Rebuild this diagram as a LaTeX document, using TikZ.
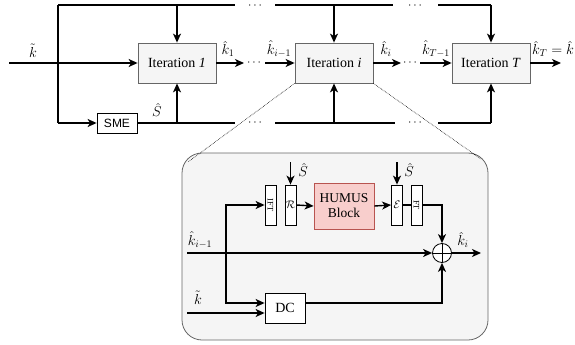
\documentclass[tikz,border=0pt]{standalone}
\usepackage{fontspec}
\setmainfont{Liberation Serif}
\newfontfamily\smesans{Liberation Sans}
\usetikzlibrary{arrows.meta,calc}
\definecolor{itfill}{HTML}{F5F5F5}
\definecolor{itdraw}{HTML}{666666}
\definecolor{hufill}{HTML}{F8CECC}
\definecolor{hudraw}{HTML}{B85450}
\begin{document}
\begin{tikzpicture}[x=1pt,y=-1pt,
  fnt/.style={font=\fontsize{14}{16}\selectfont},
  iterbox/.style={draw=itdraw,fill=itfill,line width=0.8pt,minimum width=78pt,minimum height=40pt,inner sep=0pt,fnt},
  plainbox/.style={draw=black,fill=white,line width=0.8pt,inner sep=0pt},
  thinbox/.style={plainbox,minimum width=11pt,minimum height=40pt},
  humusbox/.style={draw=hudraw,fill=hufill,line width=0.8pt,minimum width=60pt,minimum height=46pt,inner sep=0pt,align=center,font=\fontsize{13.5}{15}\selectfont},
  wire/.style={line width=1.4pt},
  arr/.style={wire,-{Stealth[length=9pt,width=8pt,inset=2.5pt]}},
  lab/.style={inner sep=0pt,fnt},
  dotsl/.style={inner sep=0pt,font=\fontsize{12}{14}\selectfont},
  zoomline/.style={densely dotted,line width=0.6pt}
]
\useasboundingbox (0,0) rectangle (575,345);

% zoom panel
\draw[draw=itdraw,fill=itfill,line width=0.8pt,rounded corners=20pt] (182,153) rectangle (488,340);

% iteration boxes
\node[iterbox] (it1) at (177,63) {Iteration \textit{1}};
\node[iterbox] (iti) at (334,63) {Iteration \textit{i}};
\node[iterbox] (itT) at (491,63) {Iteration \textit{T}};
\node[plainbox,minimum width=40pt,minimum height=20pt,font=\smesans\fontsize{12}{14}\selectfont] (sme) at (117,123) {SME};

% dotted zoom lines
\coordinate (zl) at (188,162);
\coordinate (zr) at (481,159);
\draw[zoomline] (iti.south west) -- (zl);
\draw[zoomline] (iti.south east) -- (zr);

% coordinates
\coordinate (in) at (9,63);
\coordinate (tl) at (58,5);
\coordinate (bl) at (58,123);
\coordinate (t1) at (235,5);
\coordinate (t2) at (275,5);
\coordinate (t3) at (393,5);
\coordinate (t4) at (438,5);
\coordinate (t5) at (491,5);
\coordinate (b1) at (235,123);
\coordinate (b2) at (275,123);
\coordinate (b3) at (395,123);
\coordinate (b4) at (438,123);
\coordinate (b5) at (491,123);
\node[dotsl] (dt1) at (255,6) {$\cdots$};
\node[dotsl] (dt2) at (415,6) {$\cdots$};
\node[dotsl] (db1) at (255,123) {$\cdots$};
\node[dotsl] (db2) at (415,123) {$\cdots$};

% input
\draw[arr] (in) -- (it1.west);
\node[lab] (lk) at (33,51) {$\tilde{k}$};
\draw[wire] (tl) -- (bl);
\draw[wire] (tl) -- (t1);
\draw[wire] (t2) -- (t3);
\draw[wire] (t4) -- (t5);
\draw[arr] (t5) -- (itT.north);
\draw[arr] (it1.north |- tl) -- (it1.north);
\draw[arr] (iti.north |- tl) -- (iti.north);
\draw[arr] (bl) -- (sme.west);
\draw[wire] (sme.east) -- (b1);
\draw[wire] (b2) -- (b3);
\draw[wire] (b4) -- (b5);
\draw[arr] (b5) -- (itT.south);
\draw[arr] (it1.south |- bl) -- (it1.south);
\draw[arr] (iti.south |- bl) -- (iti.south);
\node[lab] (ls) at (157,110) {$\hat{S}$};

% chain between iterations
\coordinate (c1) at (244,63);
\node[dotsl] (dc1) at (254,63) {$\cdots$};
\coordinate (c2) at (265,63);
\coordinate (c3) at (401,63);
\node[dotsl] (dc2) at (410,63) {$\cdots$};
\coordinate (c4) at (420,63);
\coordinate (c5) at (561,63);
\draw[arr] (it1.east) -- (c1);
\draw[arr] (c2) -- (iti.west);
\draw[arr] (iti.east) -- (c3);
\draw[arr] (c4) -- (itT.west);
\draw[arr] (itT.east) -- (c5);
\node[lab] (lk1) at (228,49) {$\hat{k}_1$};
\node[lab] (lki1) at (279,49) {$\hat{k}_{i-1}$};
\node[lab] (lki) at (386,49) {$\hat{k}_i$};
\node[lab] (lkT1) at (436,49) {$\hat{k}_{T-1}$};
\node[lab,anchor=west] (lkT) at (532,49) {$\hat{k}_T = \hat{k}$};

% inner blocks
\node[thinbox] (ift) at (270.5,205) {\rotatebox{-90}{\fontsize{8.5}{9}\selectfont IFT}};
\node[thinbox] (rr) at (290.5,205) {\fontsize{11}{12}\selectfont$\mathcal{R}$};
\node[humusbox] (hu) at (344,206) {HUMUS\\Block};
\node[thinbox] (ee) at (397,205) {\fontsize{11}{12}\selectfont$\mathcal{E}$};
\node[thinbox] (ft) at (416.5,205) {\rotatebox{-90}{\fontsize{8.5}{9}\selectfont FT}};
\node[plainbox,minimum width=40pt,minimum height=30pt,fnt] (dc) at (285,308) {DC};
\node[draw=black,fill=white,line width=0.8pt,circle,minimum size=19pt,inner sep=0pt] (sum) at (442,253) {};
\draw[line width=0.8pt] (sum.north) -- (sum.south) (sum.west) -- (sum.east);

% S hat arrows
\coordinate (s1) at (290.5,162);
\coordinate (s2) at (397,162);
\draw[arr] (s1) -- (rr.north);
\draw[arr] (s2) -- (ee.north);
\node[lab] (ls1) at (303,170) {$\hat{S}$};
\node[lab] (ls2) at (409,170) {$\hat{S}$};

% inner wires
\coordinate (kin) at (187,253);
\coordinate (ktin) at (187,313);
\coordinate (vb) at (226,253);
\coordinate (kout) at (481,253);
\draw[arr] (kin) -- (sum.west);
\draw[arr] (sum.east) -- (kout);
\draw[arr] (vb) |- (ift.west);
\draw[arr] (vb) |- ($(dc.west)+(0,-5)$);
\draw[arr] (ktin) -- ($(dc.west)+(0,5)$);
\draw[arr] (rr.east) -- (hu.west);
\draw[arr] (hu.east) -- (ee.west);
\draw[wire] (ee.east) -- (ft.west);
\draw[arr] (ft.east) -| (sum.north);
\draw[arr] ($(dc.east)+(0,-5)$) -| (sum.south);
\node[lab] (lkin) at (200,240) {$\hat{k}_{i-1}$};
\node[lab] (lkt) at (198,298) {$\tilde{k}$};
\node[lab] (lkout) at (463,240) {$\hat{k}_i$};
\end{tikzpicture}
\end{document}
